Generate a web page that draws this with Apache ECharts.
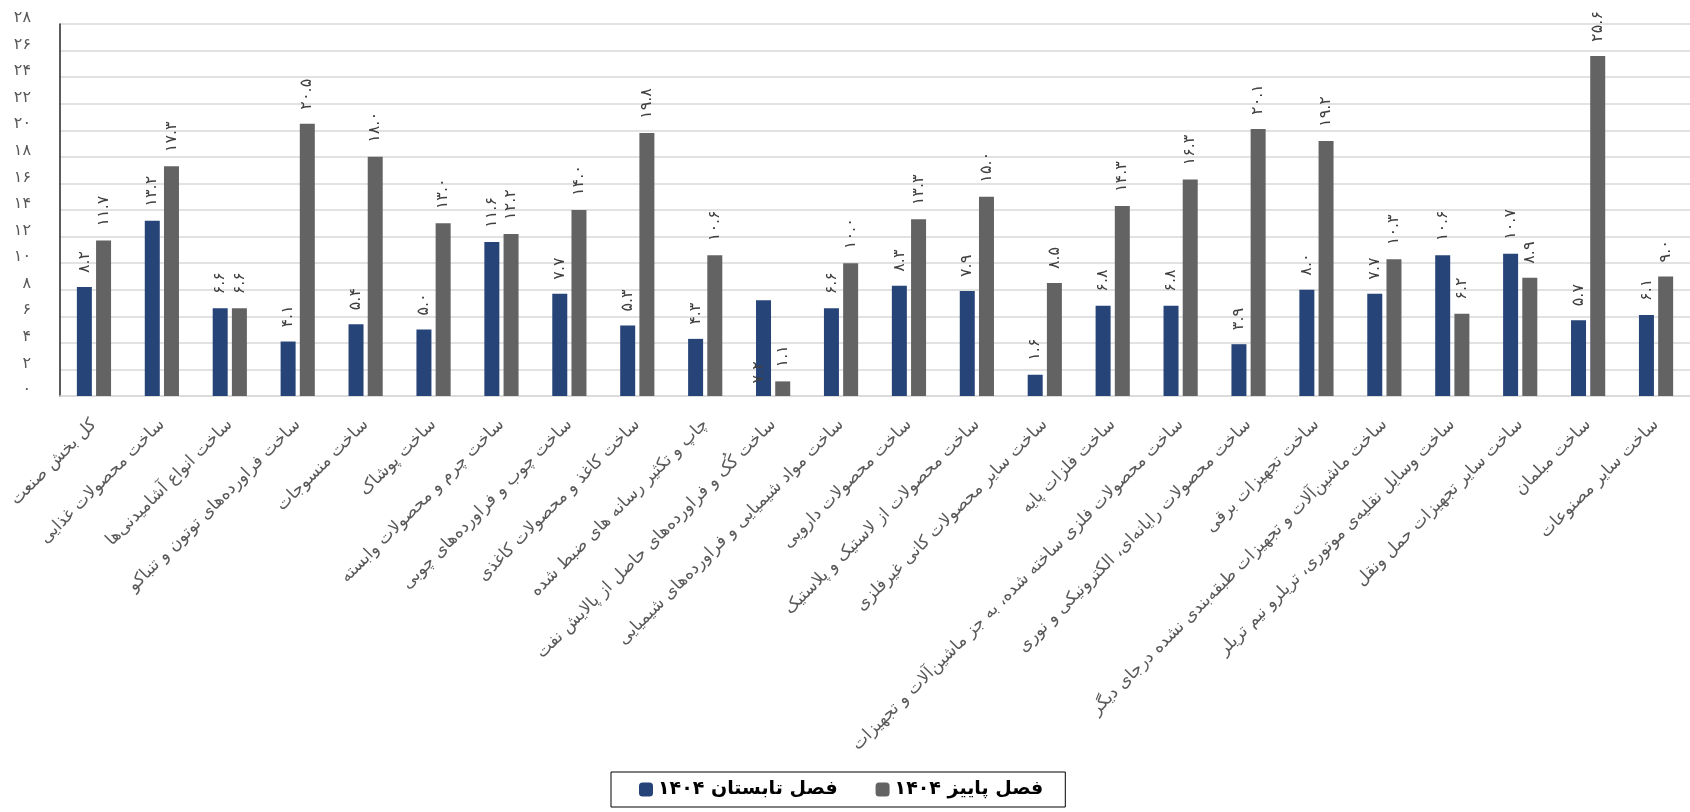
<!DOCTYPE html>
<html>
<head>
<meta charset="utf-8">
<script src="https://cdn.jsdelivr.net/npm/echarts@6/dist/echarts.min.js"></script>
<style>
html,body{margin:0;padding:0;background:#fff;}
#chart{width:1690px;height:812px;}
</style>
</head>
<body>
<div id="chart"></div>
<script>
const categories = [
  'کل بخش صنعت',
  'ساخت محصولات غذایی',
  'ساخت انواع آشامیدنی‌ها',
  'ساخت فراورده‌های توتون و تنباکو',
  'ساخت منسوجات',
  'ساخت پوشاک',
  'ساخت چرم و محصولات وابسته',
  'ساخت چوب و فراورده‌های چوبی',
  'ساخت کاغذ و محصولات کاغذی',
  'چاپ و تکثیر رسانه های ضبط شده',
  'ساخت کُک و فراورده‌های حاصل از پالایش نفت',
  'ساخت مواد شیمیایی و فراورده‌های شیمیایی',
  'ساخت محصولات دارویی',
  'ساخت محصولات از لاستیک و پلاستیک',
  'ساخت سایر محصولات کانی غیرفلزی',
  'ساخت فلزات پایه',
  'ساخت محصولات فلزی ساخته شده، به جز ماشین‌آلات و تجهیزات',
  'ساخت محصولات رایانه‌ای، الکترونیکی و نوری',
  'ساخت تجهیزات برقی',
  'ساخت ماشین‌آلات و تجهیزات طبقه‌بندی نشده درجای دیگر',
  'ساخت وسایل نقلیه‌ی موتوری، تریلرو نیم تریلر',
  'ساخت سایر تجهیزات حمل ونقل',
  'ساخت مبلمان',
  'ساخت سایر مصنوعات'
];
const seriesNames = ['فصل تابستان ۱۴۰۴', 'فصل پاییز ۱۴۰۴'];
const summer1404 = [8.2, 13.2, 6.6, 4.1, 5.4, 5.0, 11.6, 7.7, 5.3, 4.3, 7.2, 6.6, 8.3, 7.9, 1.6, 6.8, 6.8, 3.9, 8.0, 7.7, 10.6, 10.7, 5.7, 6.1];
const autumn1404 = [11.7, 17.3, 6.6, 20.5, 18.0, 13.0, 12.2, 14.0, 19.8, 10.6, 1.1, 10.0, 13.3, 15.0, 8.5, 14.3, 16.3, 20.1, 19.2, 10.3, 6.2, 8.9, 25.6, 9.0];
const yTickLabels = ['۰','۲','۴','۶','۸','۱۰','۱۲','۱۴','۱۶','۱۸','۲۰','۲۲','۲۴','۲۶','۲۸'];

const faDigits = '۰۱۲۳۴۵۶۷۸۹';
const toFa = s => String(s).replace(/\d/g, d => faDigits[+d]);
const FONT = 'DejaVu Sans';

const baseLabel = {
  show: true,
  position: 'top',
  rotate: 90,
  align: 'left',
  verticalAlign: 'middle',
  distance: 14,
  fontFamily: FONT,
  fontSize: 16,
  color: '#404040',
  formatter: p => toFa(p.value.toFixed(1))
};

const summerData = summer1404.map((v, i) => {
  if (i === 10) {
    return { value: v, label: { position: [3, 72], align: 'center', verticalAlign: 'middle' } };
  }
  return v;
});

const chart = echarts.init(document.getElementById('chart'), null, { renderer: 'canvas' });
chart.setOption({
  animation: false,
  backgroundColor: '#fff',
  grid: { left: 60, top: 24, width: 1646, height: 372, containLabel: false },
  legend: {
    data: seriesNames,
    left: 611,
    top: 772,
    orient: 'horizontal',
    itemWidth: 14,
    itemHeight: 14,
    itemGap: 38,
    borderColor: '#000',
    borderWidth: 1,
    padding: [8, 22, 8, 28],
    textStyle: { fontFamily: FONT, fontSize: 19, fontWeight: 'bold', color: '#000' }
  },
  xAxis: {
    type: 'category',
    data: categories,
    axisTick: { show: false },
    axisLine: { lineStyle: { color: '#d9d9d9', width: 1.5 } },
    axisLabel: {
      interval: 0,
      rotate: 45,
      margin: 26,
      fontFamily: FONT,
      fontSize: 17,
      color: '#595959'
    }
  },
  yAxis: {
    type: 'value',
    min: 0,
    max: 28,
    interval: 2,
    axisLine: { show: true, lineStyle: { color: '#262626', width: 1.5 } },
    axisTick: { show: false },
    splitLine: { lineStyle: { color: '#d9d9d9', width: 1.5 } },
    axisLabel: {
      margin: 29,
      verticalAlign: 'bottom',
      lineHeight: 12,
      fontFamily: FONT,
      fontSize: 16,
      color: '#595959',
      formatter: v => yTickLabels[Math.round(v / 2)]
    }
  },
  series: [
    {
      name: seriesNames[0],
      type: 'bar',
      data: summerData,
      barWidth: 15,
      barGap: '28%',
      itemStyle: { color: '#264478' },
      label: baseLabel
    },
    {
      name: seriesNames[1],
      type: 'bar',
      data: autumn1404,
      barWidth: 15,
      barGap: '28%',
      itemStyle: { color: '#636363' },
      label: baseLabel
    }
  ]
});
</script>
</body>
</html>
